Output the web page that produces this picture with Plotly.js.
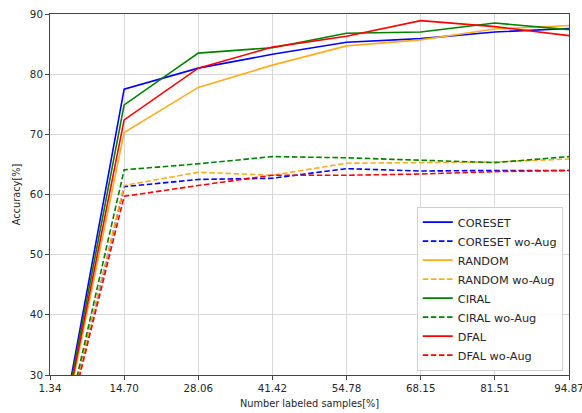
<!DOCTYPE html>
<html>
<head>
<meta charset="utf-8">
<script src="https://cdn.plot.ly/plotly-3.0.1.min.js"></script>
<style>html,body{margin:0;padding:0;background:#fff;}#chart{width:582px;height:413px;}</style>
</head>
<body>
<div id="chart"></div>
<script>
const xValues = [1.34, 14.70, 28.06, 41.42, 54.78, 68.15, 81.51, 94.87];
const xTickText = ["1.34", "14.70", "28.06", "41.42", "54.78", "68.15", "81.51", "94.87"];

const coreset      = [10.5, 77.5, 81.0, 83.3, 85.3, 85.9, 87.0, 87.6];
const coresetNoAug = [10.0, 61.3, 62.5, 62.7, 64.3, 63.9, 64.0, 64.0];
const random       = [10.5, 70.3, 77.8, 81.5, 84.7, 85.7, 87.5, 88.1];
const randomNoAug  = [10.0, 61.5, 63.7, 63.2, 65.2, 65.3, 65.4, 65.9];
const ciral        = [10.5, 74.9, 83.5, 84.4, 86.8, 87.0, 88.5, 87.4];
const ciralNoAug   = [10.0, 64.1, 65.1, 66.3, 66.1, 65.7, 65.3, 66.3];
const dfal         = [10.5, 72.4, 81.0, 84.5, 86.3, 88.9, 87.9, 86.4];
const dfalNoAug    = [10.0, 59.7, 61.5, 63.2, 63.2, 63.4, 63.8, 64.0];

const seriesNames = ["CORESET", "CORESET wo-Aug", "RANDOM", "RANDOM wo-Aug", "CIRAL", "CIRAL wo-Aug", "DFAL", "DFAL wo-Aug"];
const seriesValues = [coreset, coresetNoAug, random, randomNoAug, ciral, ciralNoAug, dfal, dfalNoAug];
const seriesColors = ["#0000ff", "#0000ff", "#ffad1f", "#ffad1f", "#008000", "#008000", "#ff0000", "#ff0000"];
const seriesDash = ["solid", "5.5px,2.6px", "solid", "5.5px,2.6px", "solid", "5.5px,2.6px", "solid", "5.5px,2.6px"];

const traces = seriesNames.map((name, i) => ({
  type: "scatter",
  mode: "lines",
  name: name,
  x: xValues,
  y: seriesValues[i],
  line: {color: seriesColors[i], width: 1.6, dash: seriesDash[i]}
}));

const layout = {
  width: 582,
  height: 413,
  margin: {l: 50, r: 13, t: 14, b: 38},
  paper_bgcolor: "#ffffff",
  plot_bgcolor: "#ffffff",
  font: {family: "DejaVu Sans, sans-serif", size: 10.3, color: "#262626"},
  showlegend: true,
  legend: {
    x: 0.988, y: 0.012, xanchor: "right", yanchor: "bottom",
    bgcolor: "rgba(255,255,255,0.85)",
    bordercolor: "#d0d0d0", borderwidth: 1,
    font: {size: 11.3, color: "#262626"},
    tracegroupgap: 0
  },
  xaxis: {
    range: [1.3399, 94.8701],
    tickmode: "array",
    tickvals: xValues,
    ticktext: xTickText,
    ticklabeloverflow: "allow",
    showgrid: true, gridcolor: "#d8d8d8", gridwidth: 1,
    zeroline: false,
    showline: true, linecolor: "#444", linewidth: 1, mirror: true,
    ticks: "outside", ticklen: 4, tickcolor: "#444",
    tickfont: {size: 10.3},
    title: {text: "Number labeled samples[%]", font: {size: 9.8}, standoff: 6}
  },
  yaxis: {
    range: [30, 90],
    tickmode: "linear", tick0: 30, dtick: 10,
    showgrid: true, gridcolor: "#d8d8d8", gridwidth: 1,
    zeroline: false,
    showline: true, linecolor: "#444", linewidth: 1, mirror: true,
    ticks: "outside", ticklen: 4, tickcolor: "#444",
    tickfont: {size: 10.3},
    title: {text: "Accuracy[%]", font: {size: 9.8}, standoff: 7}
  }
};

Plotly.newPlot("chart", traces, layout, {displayModeBar: false, staticPlot: true});
</script>
</body>
</html>
